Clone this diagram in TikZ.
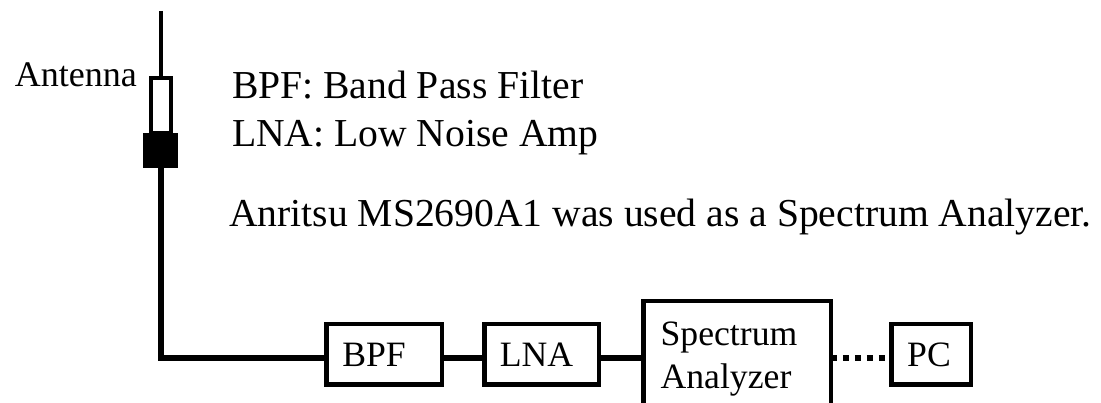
\documentclass[tikz,border=0pt]{standalone}
\usepackage{fontspec}
\setmainfont{Liberation Serif}
\usepackage{xcolor}
\tikzset{
  blockbox/.style={draw=black,line width=0.09cm,fill=white,inner sep=0pt,outer sep=0pt,
    font=\fontsize{20.3}{24.4}\selectfont,align=left},
  legendtext/.style={inner sep=0pt,outer sep=0pt,anchor=base west,font=\fontsize{22.55}{26}\selectfont},
  wire/.style={black,line width=0.12cm},
  whip/.style={black,line width=0.09cm},
  dotwire/.style={black,line width=0.12cm,dash pattern=on 0.12cm off 0.12cm}
}
\begin{document}
\begin{tikzpicture}[x=1cm,y=1cm]
  \clip (0,0) rectangle (22.02,8.06);
  \coordinate (whiptop) at (3.22,7.84);
  \node[blockbox,minimum width=0.4cm,minimum height=1.1cm] (antbody) at (3.22,5.95) {};
  \node[fill=black,inner sep=0pt,outer sep=0pt,minimum width=0.7cm,minimum height=0.7cm] (antbase) at (3.21,5.05) {};
  \node[blockbox,minimum width=2.31cm,minimum height=1.21cm] (bpf) at (7.68,0.97) {BPF\hspace*{0.4cm}};
  \node[blockbox,minimum width=2.29cm,minimum height=1.21cm] (lna) at (10.83,0.97) {LNA\hspace*{0.2cm}};
  \node[blockbox,minimum width=3.75cm,minimum height=2.32cm] (spec) at (14.74,0.88) {Spectrum\hspace*{0.32cm}\\Analyzer};
  \node[blockbox,minimum width=1.59cm,minimum height=1.21cm] (pc) at (18.62,0.97) {PC\hspace*{0.08cm}};
  \draw[whip] (whiptop) -- (antbody.north);
  \draw[wire] (antbase.south) |- ([yshift=-0.08cm]bpf.west);
  \draw[wire] ([yshift=-0.08cm]bpf.east) -- ([yshift=-0.08cm]lna.west);
  \draw[wire] ([yshift=-0.08cm]lna.east) -- ([yshift=-0.08cm]lna.east -| spec.west);
  \draw[dotwire] ([yshift=-0.08cm]pc.west -| spec.east) -- ([yshift=-0.08cm]pc.west);
  \node[inner sep=0pt,anchor=base west,font=\fontsize{20.5}{24}\selectfont] (anttext) at (0.29,6.32) {Antenna};
  \node[legendtext] (bpftext) at (4.64,6.08) {BPF: Band Pass Filter};
  \node[legendtext] (lnatext) at (4.64,5.12) {LNA: Low Noise Amp};
  \node[legendtext] (usedtext) at (4.58,3.52) {Anritsu MS2690A1 was used as a Spectrum Analyzer.};
\end{tikzpicture}
\end{document}
